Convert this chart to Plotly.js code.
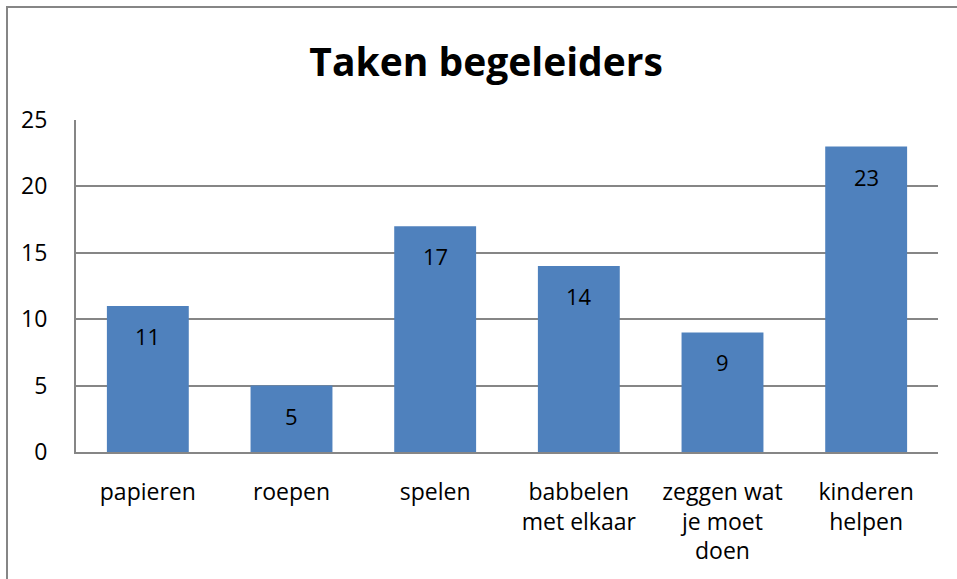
<!DOCTYPE html>
<html>
<head>
<meta charset="utf-8">
<script src="https://cdn.plot.ly/plotly-3.0.1.min.js"></script>
<style>
  body { margin: 0; background: #fff; }
</style>
</head>
<body>
<div id="myDiv_taken"></div>
<script>
// TAKEN BEGELEIDERS

var labels_taken = [
  "papieren",
  "roepen",
  "spelen",
  "babbelen<br>met elkaar",
  "zeggen wat<br>je moet<br>doen",
  "kinderen<br>helpen",
];

var values_taken = [11, 5, 17, 14, 9, 23];

var ticks_taken = [0, 5, 10, 15, 20, 25];

var trace_taken = {
  x: labels_taken,
  y: values_taken,
  type: "bar",
  hoverinfo: "none",
  marker: {
    color: "#4F81BD",
  },
};

// value labels sit a bit below the top of each bar, like Excel does
var annotations_taken = labels_taken.map(function (lab, i) {
  return {
    x: lab,
    y: values_taken[i],
    xref: "x",
    yref: "y",
    text: String(values_taken[i]),
    showarrow: false,
    yanchor: "middle",
    yshift: -30,
    font: { size: 22, color: "#000" },
  };
});

var layout_taken = {
  width: 957,
  height: 579,
  margin: { l: 76, r: 19, t: 120, b: 127 },
  paper_bgcolor: "#fff",
  plot_bgcolor: "#fff",
  font: { family: "Open Sans, sans-serif", color: "#000" },
  showlegend: false,
  bargap: 0.43,
  title: {
    text: "<b>Taken begeleiders</b>",
    font: { size: 39, color: "#000" },
    xref: "container",
    x: 0.508,
    xanchor: "center",
    yref: "container",
    y: 0.893,
    yanchor: "middle",
  },
  xaxis: {
    type: "category",
    showline: true,
    linecolor: "#868686",
    linewidth: 2,
    ticks: "",
    ticklabelstandoff: 18,
    tickfont: { size: 23, color: "#000" },
    fixedrange: true,
  },
  yaxis: {
    range: [0, 25],
    tickvals: ticks_taken,
    showgrid: true,
    gridcolor: "#868686",
    gridwidth: 1.5,
    zeroline: false,
    showline: true,
    linecolor: "#868686",
    linewidth: 2,
    ticks: "",
    ticklabelstandoff: 22,
    tickfont: { size: 23, color: "#000" },
    fixedrange: true,
  },
  annotations: annotations_taken,
  shapes: [
    {
      // outer chart frame
      type: "rect",
      xref: "paper",
      yref: "paper",
      x0: (7 - 76) / 862,
      x1: (965 - 76) / 862,
      y0: (452 - 590) / 332,
      y1: (452 - 7) / 332,
      line: { color: "#868686", width: 2 },
      fillcolor: "rgba(0,0,0,0)",
      layer: "above",
    },
  ],
};

var config_taken = {
  displayModeBar: false,
  displaylogo: false,
};

Plotly.newPlot("myDiv_taken", [trace_taken], layout_taken, config_taken);
</script>
</body>
</html>
